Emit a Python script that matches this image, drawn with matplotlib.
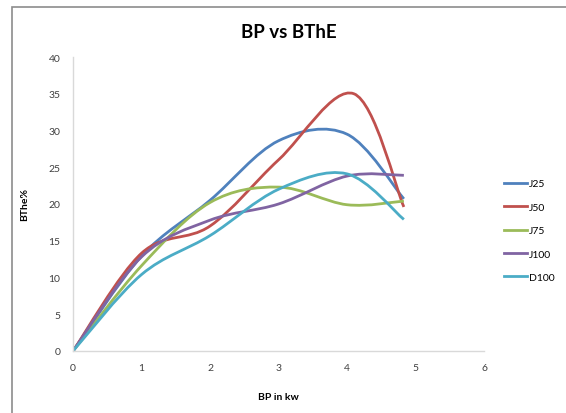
import matplotlib.pyplot as plt
from matplotlib.path import Path
from matplotlib.patches import PathPatch, Rectangle
from matplotlib.lines import Line2D
import numpy as np

plt.rcParams['font.family'] = ['Lato', 'DejaVu Sans']

# data
bp = [0, 1, 2, 3, 4, 4.83]
bp_j50 = [0, 1, 2, 3, 4.1, 4.83]
j25 = [0, 12.9, 20.5, 28.6, 29.5, 20.7]
j50 = [0, 13.3, 17.0, 26.0, 35.0, 19.6]
j75 = [0, 11.6, 20.2, 22.3, 19.9, 20.4]
j100 = [0, 12.8, 17.8, 20.0, 23.8, 23.9]
d100 = [0, 10.4, 15.7, 22.0, 24.1, 17.9]

names = ['J25', 'J50', 'J75', 'J100', 'D100']
xvals = [bp, bp_j50, bp, bp, bp]
series = [j25, j50, j75, j100, d100]
colors = ['#4F81BD', '#C0504D', '#9BBB59', '#8064A2', '#4BACC6']


def smooth_path(xs, ys):
    # Excel-style smoothed line: cubic bezier through each point
    p = np.column_stack([xs, ys]).astype(float)
    n = len(p)
    verts = [p[0]]
    codes = [Path.MOVETO]
    for i in range(n - 1):
        p0 = p[i - 1] if i > 0 else p[i]
        p3 = p[i + 2] if i + 2 < n else p[i + 1]
        c1 = p[i] + (p[i + 1] - p0) / 6.0
        c2 = p[i + 1] - (p3 - p[i]) / 6.0
        verts += [c1, c2, p[i + 1]]
        codes += [Path.CURVE4] * 3
    return Path(verts, codes)


fig = plt.figure(figsize=(5.66, 4.14), dpi=100)
ax = fig.add_axes([73 / 566, 62 / 414, 411 / 566, 294 / 414])

handles = []
for name, xs, ys, c in zip(names, xvals, series, colors):
    ax.add_patch(PathPatch(smooth_path(xs, ys), facecolor='none', edgecolor=c,
                           lw=2.0, capstyle='butt', joinstyle='round'))
    handles.append(Line2D([], [], color=c, lw=2.0, label=name))

ax.set_xlim(0, 6)
ax.set_ylim(0, 40)
ax.set_xticks(range(0, 7))
ax.set_yticks(range(0, 41, 5))
for s in ['top', 'right']:
    ax.spines[s].set_visible(False)
for s in ['left', 'bottom']:
    ax.spines[s].set_color('#D9D9D9')
    ax.spines[s].set_linewidth(1.0)
ax.tick_params(length=0, labelsize=7.5, labelcolor='#404040', pad=9)

ax.set_xlabel('BP in kw', fontsize=7.5, fontweight='bold', labelpad=14)
ax.set_ylabel('BThe%', fontsize=7.5, fontweight='bold', labelpad=14)
fig.text(289 / 566, 1 - 32 / 414, 'BP vs BThE', ha='center', va='center',
         fontsize=13.5, fontweight='bold')

fig.legend(handles=handles, loc='upper left', bbox_to_anchor=(500 / 566, 1 - 176 / 414),
           frameon=False, fontsize=7.5, handlelength=2.2, handletextpad=0.2,
           labelspacing=1.35, borderaxespad=0)

# chart border from the screenshot
fig.patches.append(Rectangle((12 / 566, -0.1), 1.2, 1 - 7.5 / 414 + 0.1,
                             transform=fig.transFigure, fill=False,
                             edgecolor='#8C8C8C', lw=1.2))

fig.savefig('out.png', dpi=100)
